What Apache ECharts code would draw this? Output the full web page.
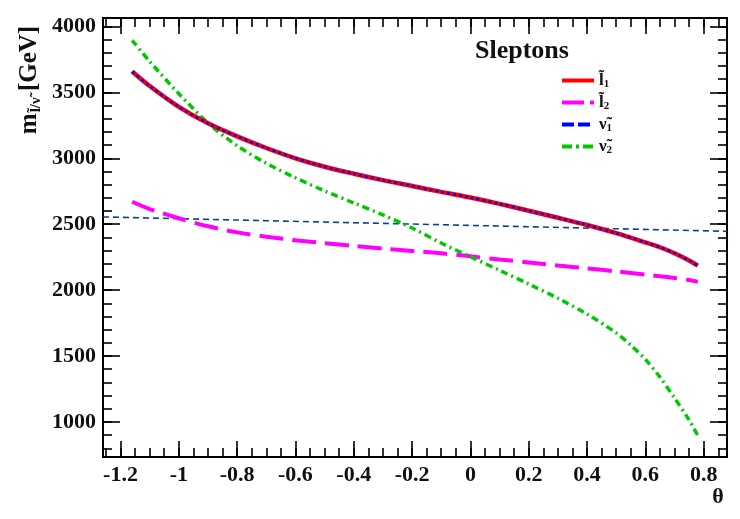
<!DOCTYPE html>
<html>
<head>
<meta charset="utf-8">
<script src="https://cdn.jsdelivr.net/npm/echarts@6/dist/echarts.min.js"></script>
<style>
html,body{margin:0;padding:0;background:#fff;}
#c{width:740px;height:519px;}
</style>
</head>
<body>
<div id="c"></div>
<script>
// ---- data ----
const thetaL = [-1.16,-1.1,-1.0,-0.9,-0.8,-0.7,-0.6,-0.5,-0.4,-0.3,-0.2,-0.1,0,0.1,0.2,0.3,0.4,0.5,0.6,0.65,0.7,0.75,0.78];
const massL1 = [3658,3548,3390,3265,3166,3078,3000,2936,2883,2834,2790,2745,2702,2654,2602,2549,2494,2432,2362,2325,2280,2225,2185];
const massL2 = [2670,2615,2545,2484,2438,2405,2378,2356,2335,2314,2297,2279,2256,2232,2210,2187,2165,2142,2118,2105,2092,2076,2063];
const massN1 = massL1.slice(); // sneutrino 1 coincides with slepton 1
const thetaN2 = [-1.16,-1.1,-1.0,-0.9,-0.8,-0.7,-0.6,-0.5,-0.4,-0.3,-0.2,-0.1,0,0.1,0.2,0.3,0.4,0.5,0.55,0.6,0.65,0.7,0.75,0.78];
const massN2 = [3895,3735,3490,3268,3095,2962,2852,2753,2661,2570,2471,2357,2253,2150,2046,1938,1818,1675,1583,1475,1340,1182,1015,895];
const thetaRef = [-1.26,0.88];
const massRef = [2555,2446];

const xMajor = [-1.2,-1.0,-0.8,-0.6,-0.4,-0.2,0,0.2,0.4,0.6,0.8];
const xMajorLabels = ['-1.2','-1','-0.8','-0.6','-0.4','-0.2','0','0.2','0.4','0.6','0.8'];
const yMajor = [1000,1500,2000,2500,3000,3500,4000];
const yMajorLabels = ['1000','1500','2000','2500','3000','3500','4000'];
const seriesNames = ['l\u03031','l\u03032','\u03bd\u03031','\u03bd\u03032'];

const xMin = -1.26, xMax = 0.88, yMin = 734, yMax = 4064;
const xMinor = []; for (let i = -25; i <= 17; i++) xMinor.push(Math.round(i*5)/100);
const yMinor = []; for (let v = 800; v <= 4000; v += 100) yMinor.push(v);

const pair = (xs, ys) => xs.map((x, i) => [x, ys[i]]);
const FONT = '"Liberation Serif","Times New Roman",serif';

function xAx(pos, vals, len, labels) {
  return {
    type: 'value', position: pos, min: xMin, max: xMax,
    axisLine: {show: true, onZero: false, lineStyle: {color: '#000', width: 2}},
    axisTick: {show: true, inside: true, length: len, customValues: vals, lineStyle: {color: '#000', width: 1.6}},
    axisLabel: labels ? {show: true, customValues: xMajor, margin: 7,
      formatter: v => { const i = xMajor.findIndex(m => Math.abs(m - v) < 1e-6); return i >= 0 ? xMajorLabels[i] : ''; },
      color: '#111', fontFamily: FONT, fontWeight: 'bold', fontSize: 22} : {show: false},
    splitLine: {show: false}
  };
}
function yAx(pos, vals, len, labels) {
  return {
    type: 'value', position: pos, min: yMin, max: yMax,
    axisLine: {show: true, onZero: false, lineStyle: {color: '#000', width: 2}},
    axisTick: {show: true, inside: true, length: len, customValues: vals, lineStyle: {color: '#000', width: 1.6}},
    axisLabel: labels ? {show: true, customValues: yMajor, margin: 7,
      formatter: v => { const i = yMajor.indexOf(Math.round(v)); return i >= 0 ? yMajorLabels[i] : ''; },
      color: '#111', fontFamily: FONT, fontWeight: 'bold', fontSize: 22} : {show: false},
    splitLine: {show: false}
  };
}

const chart = echarts.init(document.getElementById('c'), null, {renderer: 'canvas'});
const legendRich = {b: {fontFamily: FONT, fontWeight: 'bold', fontSize: 17, color: '#111', lineHeight: 18},
                    s: {fontFamily: FONT, fontWeight: 'bold', fontSize: 11, color: '#111', lineHeight: 18, verticalAlign: 'bottom'}};
const hiddenSym = {color: 'rgba(0,0,0,0)', borderColor: 'rgba(0,0,0,0)', borderWidth: 0, opacity: 0};

chart.setOption({
  animation: false,
  backgroundColor: '#fff',
  title: {text: 'Sleptons', left: 470, top: 33,
    textStyle: {fontFamily: FONT, fontWeight: 'bold', fontSize: 26, color: '#111'}},
  legend: {
    orient: 'vertical', left: 555, top: 67, itemWidth: 32, itemHeight: 12, itemGap: 4.5,
    data: [
      {name: seriesNames[0], lineStyle: {width: 4}, itemStyle: hiddenSym},
      {name: seriesNames[1], lineStyle: {width: 4, type: [22, 6]}, itemStyle: hiddenSym},
      {name: seriesNames[2], lineStyle: {width: 4, type: [12, 4]}, itemStyle: hiddenSym},
      {name: seriesNames[3], lineStyle: {width: 4, type: [10, 4, 3, 4]}, itemStyle: hiddenSym}
    ],
    formatter: n => '{b|' + n.slice(0, n.length - 1) + '}{s|' + n.slice(-1) + '}',
    textStyle: {rich: legendRich}
  },
  grid: {left: 103, top: 18, width: 624, height: 439, containLabel: false},
  xAxis: [xAx('bottom', xMajor, 16, true), xAx('bottom', xMinor, 9, false),
          xAx('top', xMajor, 16, false), xAx('top', xMinor, 9, false)],
  yAxis: [yAx('left', yMajor, 17, true), yAx('left', yMinor, 9, false),
          yAx('right', yMajor, 17, false), yAx('right', yMinor, 9, false)],
  graphic: [
    {type: 'text', x: 30, y: 80, rotation: Math.PI/2,
     style: {text: '{m|m}{s|l\u0303/\u03bd\u0303}{m| [GeV]}', align: 'center', verticalAlign: 'middle',
       rich: {m: {fontFamily: FONT, fontWeight: 'bold', fontSize: 25, fill: '#111'},
              s: {fontFamily: FONT, fontWeight: 'bold', fontSize: 15, fill: '#111', padding: [12,0,0,1]}}}},
    {type: 'text', x: 718, y: 497,
     style: {text: '\u03b8', align: 'center', verticalAlign: 'middle',
       fontFamily: FONT, fontWeight: 'bold', fontSize: 22, fill: '#111'}}
  ],
  series: [
    {name: 'ref', type: 'line', data: pair(thetaRef, massRef), showSymbol: false, symbol: 'none',
     lineStyle: {color: '#00468c', width: 1.6, type: [6, 4]}, itemStyle: {color: '#00468c'}, z: 2, silent: true},
    {name: seriesNames[1], type: 'line', data: pair(thetaL, massL2), showSymbol: false, symbol: 'none', smooth: 0.3,
     lineStyle: {color: '#ff00ff', width: 4, type: [24, 9]}, itemStyle: {color: '#ff00ff'}, z: 3},
    {name: seriesNames[3], type: 'line', data: pair(thetaN2, massN2), showSymbol: false, symbol: 'none', smooth: 0.3,
     lineStyle: {color: '#00c800', width: 3.5, type: [7, 4, 2, 4]}, itemStyle: {color: '#00c800'}, z: 4},
    {name: seriesNames[0], type: 'line', data: pair(thetaL, massL1), showSymbol: false, symbol: 'none', smooth: 0.3,
     lineStyle: {color: '#ff0000', width: 4.5}, itemStyle: {color: '#ff0000'}, z: 5},
    {name: seriesNames[2], type: 'line', data: pair(thetaL, massN1), showSymbol: false, symbol: 'none', smooth: 0.3,
     lineStyle: {color: '#0000ff', width: 2.5, type: [3, 3]}, itemStyle: {color: '#0000ff'}, z: 6}
  ]
});
</script>
</body>
</html>
